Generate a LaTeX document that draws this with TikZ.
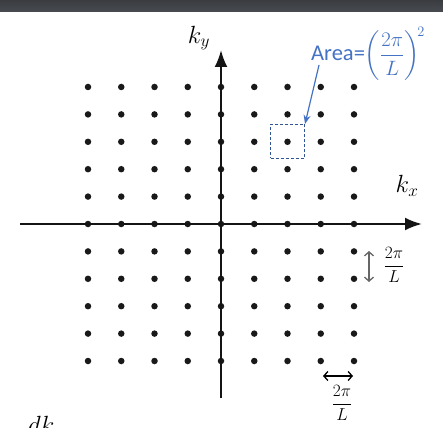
\documentclass[tikz,border=0pt]{standalone}
\usepackage{fontspec}
\usepackage{amsmath}
\newfontfamily\calib{Carlito}
\usetikzlibrary{arrows.meta}
\definecolor{areablue}{RGB}{68,114,196}
\definecolor{boxblue}{RGB}{47,85,151}
\definecolor{barcol}{RGB}{72,75,80}
\definecolor{axiscol}{RGB}{20,20,20}
\tikzset{
  latdot/.style={circle,fill=black!90,inner sep=0pt,minimum size=6.5pt},
  axisline/.style={line width=2.3pt,draw=axiscol,-{Latex[length=17pt,width=13pt]}},
  cellbox/.style={draw=boxblue,dashed,line width=1pt,dash pattern=on 3pt off 2pt,minimum size=34pt,inner sep=0pt},
  spacing/.style={line width=1.3pt,{Straight Barb[length=4pt,width=9pt]}-{Straight Barb[length=4pt,width=9pt]}},
  biglabel/.style={inner sep=0pt,font=\fontsize{27}{31}\selectfont},
  fraclabel/.style={inner sep=0pt,font=\fontsize{16}{19}\selectfont}
}
\begin{document}
\begin{tikzpicture}[x=1pt,y=-1pt]
\useasboundingbox (0,0) rectangle (443,427);
\clip (0,0) rectangle (443,427);
\fill[white] (0,0) rectangle (443,427);
\shade[top color=barcol!80!black,bottom color=barcol] (0,0) rectangle (443,12);
% lattice
\foreach \i in {0,...,8}{
  \foreach \j in {0,...,10}{
    \node[latdot] (d-\i-\j) at ({88+33.25*\i},{87+27.4*\j}) {};
  }
}
% axes
\coordinate (xl) at (20,224);
\coordinate (xr) at (422,224);
\coordinate (yb) at (221,398);
\coordinate (yt) at (221,50);
\draw[axisline] (xl) -- (xr);
\draw[axisline] (yb) -- (yt);
\node[biglabel] (ky) at (199,38) {$k_y$};
\node[biglabel] (kx) at (407,186) {$k_x$};
% area cell
\node[cellbox] (cell) at (287.5,141.5) {};
\node[inner sep=0pt,anchor=base west,text=areablue,font=\calib\fontsize{22.5}{27}\selectfont] (area) at (311,61)
  {Area=$\displaystyle\left(\frac{2\pi}{L}\right)^{\!2}$};
\coordinate (ast) at (319,65);
\draw[areablue,line width=1.2pt,-{Stealth[length=9pt,width=7pt]}] (ast) -- (cell.north east);
% vertical spacing
\coordinate (vt) at (369,251);
\coordinate (vb) at (369,282);
\draw[spacing,draw=black!60] (vt) -- (vb);
\node[fraclabel] (vf) at (394,265) {$\displaystyle\frac{2\pi}{L}$};
% horizontal spacing
\coordinate (hl) at (323,376);
\coordinate (hr) at (353,376);
\draw[spacing,draw=black] (hl) -- (hr);
\node[fraclabel] (hf) at (342,403) {$\displaystyle\frac{2\pi}{L}$};
% cropped text at bottom
\node[biglabel,anchor=base west] (dk) at (28,433) {$dk$};
\end{tikzpicture}
\end{document}
